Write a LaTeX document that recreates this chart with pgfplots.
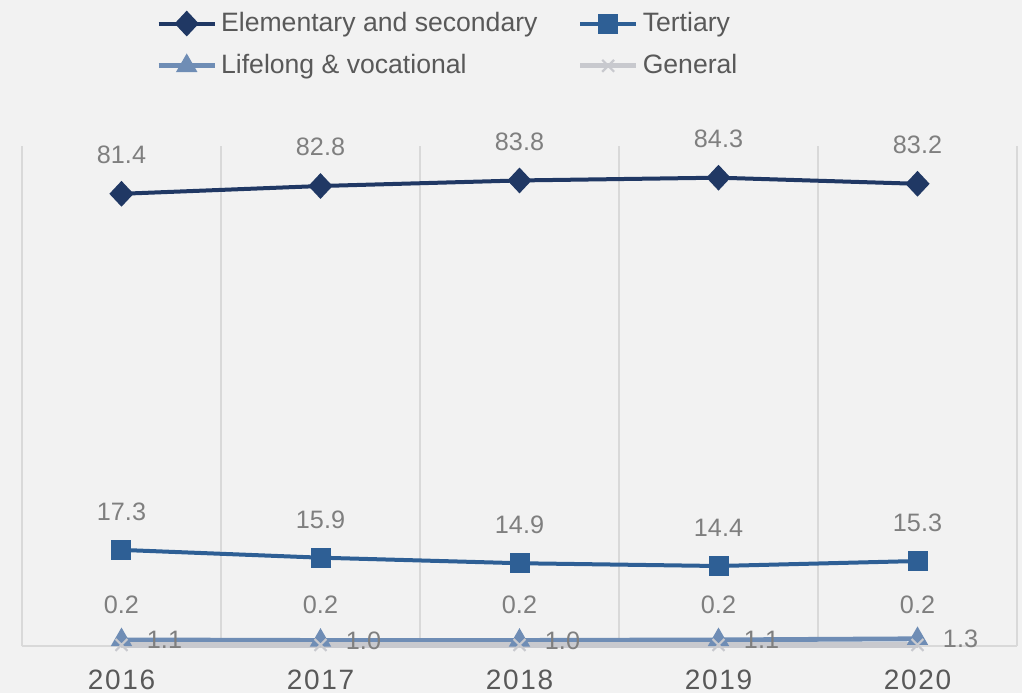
\documentclass[border=0pt]{standalone}
\usepackage{pgfplots}
\usepackage{pgfplotstable}
\pgfplotsset{compat=1.18}
\usepackage{fontspec}
\setmainfont{Liberation Sans}
\newfontfamily\tickfont[LetterSpace=6]{Liberation Sans}
\definecolor{bg}{HTML}{F2F2F2}
\definecolor{gridc}{HTML}{D9D9D9}
\definecolor{elc}{HTML}{203864}
\definecolor{terc}{HTML}{2E5F95}
\definecolor{lifc}{HTML}{6F8DB5}
\definecolor{genc}{HTML}{C8C9CE}
\definecolor{labc}{HTML}{7F7F7F}
\definecolor{txtc}{HTML}{595959}
\pgfplotstableread{
x el ter lif gen
0 81.4 17.3 1.1 0.2
1 82.8 15.9 1.0 0.2
2 83.8 14.9 1.0 0.2
3 84.3 14.4 1.1 0.2
4 83.2 15.3 1.3 0.2
}\data
\begin{document}
\begin{tikzpicture}
\fill[bg] (-11pt,-23.5pt) rectangle (500pt,323pt);
\useasboundingbox (-11pt,-23.5pt) rectangle (500pt,323pt);
\begin{axis}[
  at={(0pt,0pt)}, anchor=south west,
  scale only axis, width=497.5pt, height=250pt,
  xmin=-0.5, xmax=4.5, ymin=0, ymax=90,
  clip=false,
  axis y line=none,
  axis x line=bottom,
  x axis line style={-, draw=gridc, line width=0.8pt},
  xtick={0,1,2,3,4},
  xticklabels={2016,2017,2018,2019,2020},
  minor xtick={-0.5,0.5,1.5,2.5,3.5,4.5},
  xminorgrids=true,
  minor grid style={draw=gridc, line width=0.8pt},
  major tick length=0pt, minor tick length=0pt,
  xticklabel style={font=\tickfont\fontsize{14pt}{16pt}\selectfont, text=txtc, anchor=center, yshift=-17pt},
  legend columns=2,
  legend style={at={(0.429,1.276)}, anchor=north, draw=none, fill=none,
    font=\fontsize{13.3pt}{15pt}\selectfont, text=txtc,
    row sep=6pt, /tikz/every even column/.append style={column sep=18pt},
    inner sep=0pt, cells={anchor=west}},
  legend image code/.code={\draw[mark repeat=2,mark phase=2] plot coordinates {(0pt,0pt) (14pt,0pt) (28pt,0pt)};},
  nodes near coords={\pgfmathprintnumber[fixed,fixed zerofill,precision=1,assume math mode=true]{\pgfplotspointmeta}},
  nodes near coords style={font=\fontsize{12.6pt}{15pt}\selectfont, text=labc, anchor=center, inner sep=0pt},
]
\addplot[elc, line width=2pt, mark=diamond*, mark size=5pt, mark options={xscale=1.25},
  every node near coord/.append style={yshift=19.5pt}] table[x=x,y=el]{\data};
\addlegendentry{Elementary and secondary}
\addplot[terc, line width=2pt, mark=square*, mark size=4pt,
  every node near coord/.append style={yshift=19pt}] table[x=x,y=ter]{\data};
\addlegendentry{Tertiary}
\addplot[lifc, line width=2.4pt, mark=triangle*, mark size=3.8pt,
  every node near coord/.append style={xshift=21.5pt}] table[x=x,y=lif]{\data};
\addlegendentry{Lifelong \& vocational}
\addplot[genc, line width=2.6pt, mark=x, mark size=4.2pt, mark options={line width=1.1pt},
  every node near coord/.append style={yshift=20pt}] table[x=x,y=gen]{\data};
\addlegendentry{General}
\end{axis}
\end{tikzpicture}
\end{document}
